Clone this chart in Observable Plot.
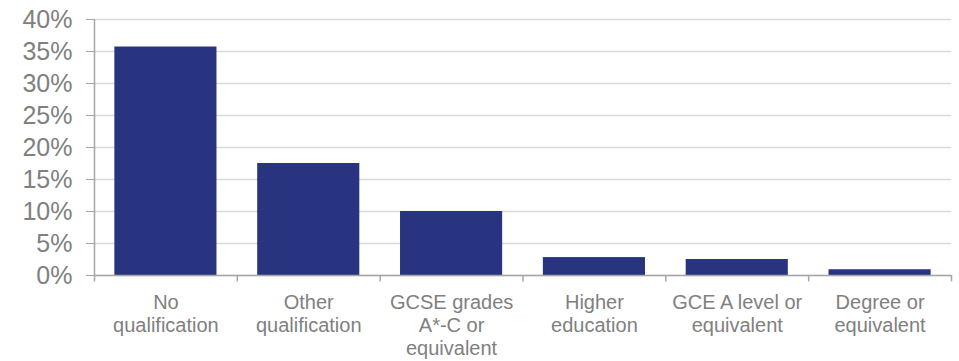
<!DOCTYPE html>
<html>
<head>
<meta charset="utf-8">
<script src="https://cdn.jsdelivr.net/npm/d3@7"></script>
<script src="https://cdn.jsdelivr.net/npm/@observablehq/plot@0.6"></script>
<style>
  html, body { margin: 0; padding: 0; background: #fff; }
  #chart svg { display: block; }
</style>
</head>
<body>
<div id="chart"></div>
<script>
const categories = ["No qualification", "Other qualification", "GCSE grades A*-C or equivalent", "Higher education", "GCE A level or equivalent", "Degree or equivalent"];
const tickLabels = ["No\nqualification", "Other\nqualification", "GCSE grades\nA*-C or\nequivalent", "Higher\neducation", "GCE A level or\nequivalent", "Degree or\nequivalent"];
const values = [35.7, 17.5, 10.0, 2.8, 2.5, 0.9];
const yTicks = [0, 5, 10, 15, 20, 25, 30, 35, 40];

const data = categories.map((c, i) => ({category: c, value: values[i]}));
const labelOf = new Map(categories.map((c, i) => [c, tickLabels[i]]));

const W = 959, H = 361;
const mL = 94, mR = 8, mT = 19, mB = 86;
const step = (W - mL - mR) / categories.length;
const axisColor = "#a6a6a6";
const textColor = "#808080";

const chart = Plot.plot({
  width: W,
  height: H,
  marginLeft: mL,
  marginRight: mR,
  marginTop: mT,
  marginBottom: mB,
  style: {fontFamily: "'Liberation Sans', Arial, sans-serif", background: "#fff"},
  x: {domain: categories, paddingInner: 0.285, paddingOuter: 0.1425, round: false},
  y: {domain: [0, 40]},
  marks: [
    Plot.gridY(yTicks, {stroke: "#d9d9d9", strokeOpacity: 1, strokeWidth: 1.5}),
    Plot.barY(data, {x: "category", y: "value", fill: "#283480"}),
    Plot.ruleY([0], {stroke: axisColor, strokeWidth: 1.5}),
    Plot.ruleX([categories[0]], {dx: -step / 2, y1: 0, y2: 40, stroke: axisColor, strokeWidth: 1.5}),
    Plot.ruleX(categories, {x: d => d, dx: -step / 2, y1: 0, y2: -1, stroke: axisColor, strokeWidth: 1.5}),
    Plot.ruleX([categories[categories.length - 1]], {dx: step / 2, y1: 0, y2: -1, stroke: axisColor, strokeWidth: 1.5}),
    Plot.axisY(yTicks, {
      tickSize: 8,
      tickPadding: 14,
      tickFormat: d => `${d}%`,
      stroke: axisColor,
      fill: textColor,
      fontSize: 25,
      label: null
    }),
    Plot.axisX({
      tickSize: 0,
      tickPadding: 17,
      tickFormat: d => labelOf.get(d),
      fill: textColor,
      fontSize: 20,
      lineHeight: 1.15,
      label: null
    })
  ]
});
document.getElementById("chart").appendChild(chart);
</script>
</body>
</html>
